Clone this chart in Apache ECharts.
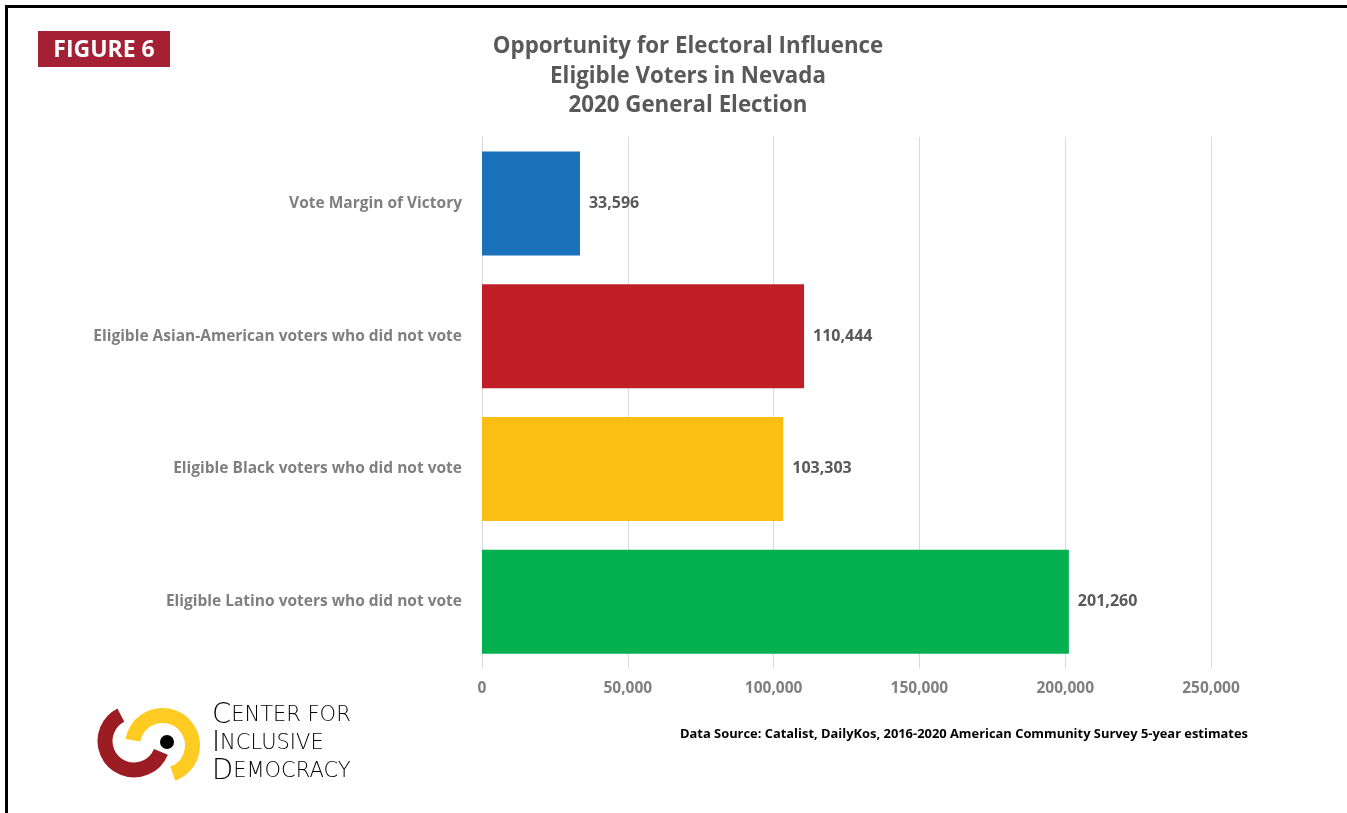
<!DOCTYPE html>
<html>
<head>
<meta charset="utf-8">
<script src="https://cdn.jsdelivr.net/npm/echarts@6/dist/echarts.min.js"></script>
<style>
  html, body { margin: 0; padding: 0; background: #ffffff; }
  #chart { width: 1347px; height: 813px; }
</style>
</head>
<body>
<div id="chart"></div>
<script>
// Nevada 2020: eligible non-voters by group vs. the vote margin of victory
const categories = [
  'Vote Margin of Victory',
  'Eligible Asian-American voters who did not vote',
  'Eligible Black voters who did not vote',
  'Eligible Latino voters who did not vote'
];
const values = [33596, 110444, 103303, 201260];
const axisTicks = [0, 50000, 100000, 150000, 200000, 250000];

const titleLines = [
  'Opportunity for Electoral Influence',
  'Eligible Voters in Nevada',
  '2020 General Election'
];
const sourceNote = 'Data Source: Catalist, DailyKos, 2016-2020 American Community Survey 5-year estimates';

const barColors = ['#1b70ba', '#c01f27', '#fbbf14', '#05b050'];
const fmt = v => v.toLocaleString('en-US');
const deg = d => d * Math.PI / 180;

const chart = echarts.init(document.getElementById('chart'), null, { renderer: 'canvas' });

const logoFont = '"DejaVu Sans", Lato, sans-serif';
const logoText = {
  rich: {
    b: { fontFamily: logoFont, fontWeight: 200, fontSize: 27.5, color: '#9b1c22', lineHeight: 28 },
    s: { fontFamily: logoFont, fontWeight: 200, fontSize: 21, color: '#9b1c22', lineHeight: 28 }
  }
};

chart.setOption({
  animation: false,
  backgroundColor: '#ffffff',
  title: {
    text: titleLines.join('\n'),
    left: 683,
    top: 27,
    textAlign: 'center',
    textStyle: {
      fontFamily: 'Open Sans',
      fontWeight: 'bold',
      fontSize: 22.3,
      lineHeight: 29.5,
      color: '#595959'
    }
  },
  grid: { left: 482, right: 136, top: 137, bottom: 145, containLabel: false },
  xAxis: {
    type: 'value',
    min: axisTicks[0],
    max: axisTicks[axisTicks.length - 1],
    interval: axisTicks[1] - axisTicks[0],
    axisLine: { show: false },
    axisTick: { show: false },
    splitLine: { show: true, lineStyle: { color: '#d9d9d9', width: 1 } },
    axisLabel: {
      margin: 13,
      fontFamily: 'Open Sans',
      fontWeight: 'bold',
      fontSize: 15.5,
      color: '#7f7f7f',
      formatter: v => fmt(v)
    }
  },
  yAxis: {
    type: 'category',
    inverse: true,
    data: categories,
    axisLine: { show: false },
    axisTick: { show: false },
    axisLabel: {
      margin: 20,
      fontFamily: 'Open Sans',
      fontWeight: 'bold',
      fontSize: 15.5,
      color: '#7f7f7f'
    }
  },
  series: [{
    type: 'bar',
    barWidth: 104,
    data: values.map((v, i) => ({ value: v, itemStyle: { color: barColors[i] } })),
    label: {
      show: true,
      position: 'right',
      distance: 9,
      fontFamily: 'Open Sans',
      fontWeight: 'bold',
      fontSize: 16,
      color: '#595959',
      formatter: p => fmt(p.value)
    }
  }],
  graphic: [
    // page frame (top and left edges)
    { type: 'line', shape: { x1: 6, y1: 6.5, x2: 1347, y2: 6.5 }, style: { stroke: '#000', lineWidth: 3 } },
    { type: 'line', shape: { x1: 6.5, y1: 5, x2: 6.5, y2: 813 }, style: { stroke: '#000', lineWidth: 3 } },
    // figure badge
    { type: 'rect', shape: { x: 38, y: 31, width: 132, height: 36 }, style: { fill: '#a32035' } },
    {
      type: 'text', x: 104, y: 50,
      style: {
        text: 'FIGURE 6', fill: '#ffffff', align: 'center', verticalAlign: 'middle',
        font: 'bold 23px "Open Sans"'
      }
    },
    // logo mark
    {
      type: 'arc',
      shape: { cx: 134, cy: 741, r: 29, startAngle: deg(22), endAngle: deg(243), clockwise: true },
      style: { stroke: '#9b1c22', lineWidth: 15, fill: null }
    },
    {
      type: 'arc',
      shape: { cx: 162.5, cy: 745.5, r: 30, startAngle: deg(190), endAngle: deg(430), clockwise: true },
      style: { stroke: '#fecb22', lineWidth: 15, fill: null }
    },
    { type: 'circle', shape: { cx: 167, cy: 742, r: 7 }, style: { fill: '#000000' } },
    // logo wordmark
    {
      type: 'text', x: 212, y: 702,
      style: Object.assign({ text: '{b|C}{s|ENTER FOR}\n{b|I}{s|NCLUSIVE}\n{b|D}{s|EMOCRACY}' }, logoText)
    },
    // source note
    {
      type: 'text', x: 680, y: 734,
      style: {
        text: sourceNote, fill: '#000000', verticalAlign: 'middle',
        font: 'bold 12.9px "Open Sans"'
      }
    }
  ]
});
</script>
</body>
</html>
